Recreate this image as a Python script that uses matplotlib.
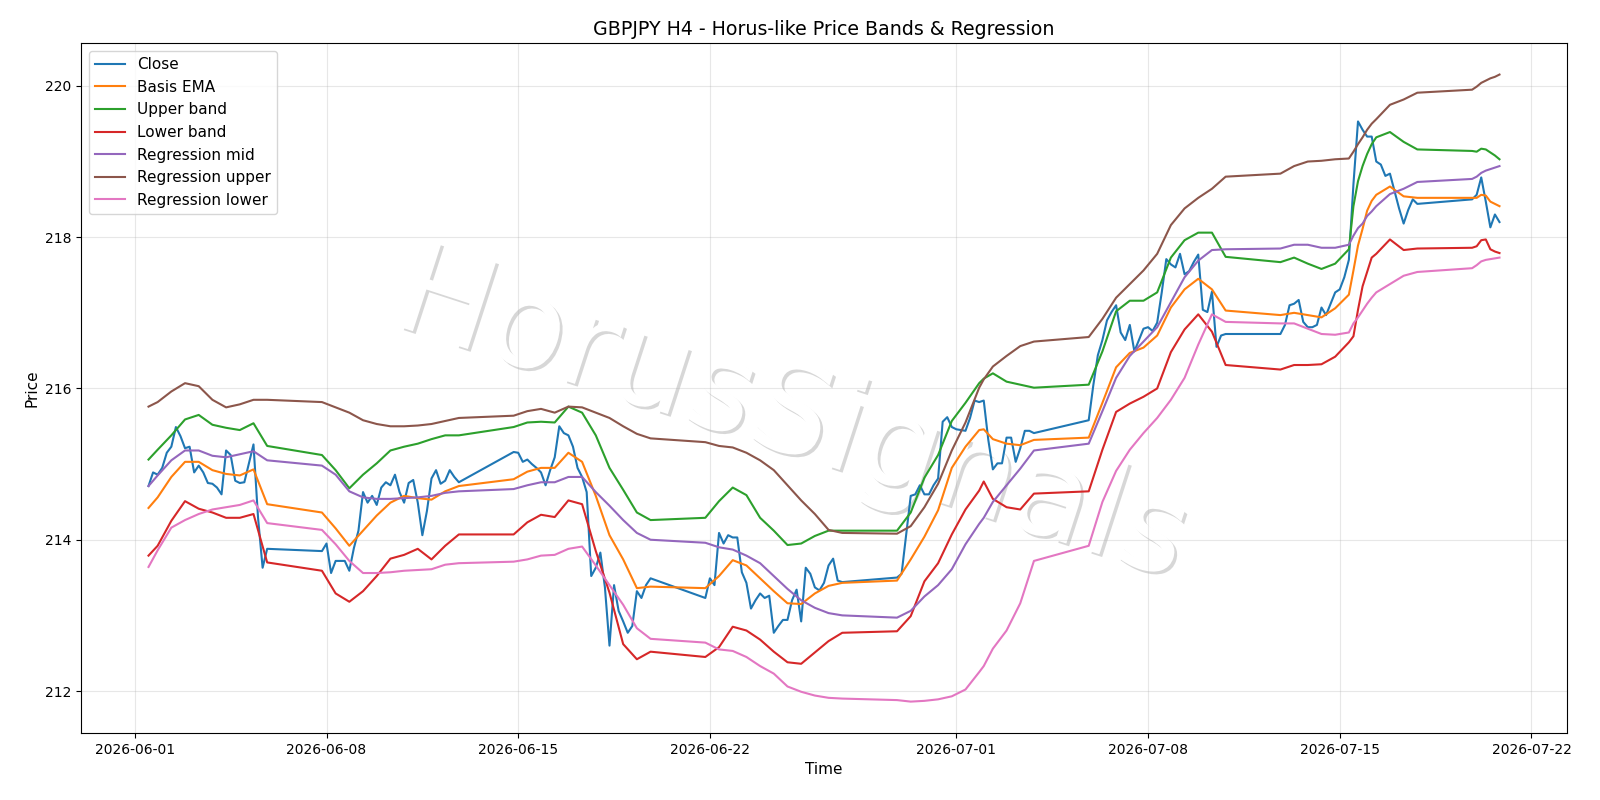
import numpy as np
import pandas as pd
import matplotlib
matplotlib.use("Agg")
import matplotlib.pyplot as plt
import matplotlib.patheffects as pe

# H4 bars: Mon-Fri sessions plus the Sunday 20:00 open bar
bars = pd.date_range("2026-06-01 12:00", "2026-07-20 20:00", freq="4h")
bars = bars[(bars.dayofweek < 5) | ((bars.dayofweek == 6) & (bars.hour == 20))]

close = [
    # week 1
    214.71, 214.89, 214.86, 214.95, 215.15, 215.23, 215.49, 215.37, 215.21, 215.23,
    214.89, 214.98, 214.89, 214.75, 214.74, 214.69, 214.60, 215.18, 215.12, 214.78,
    214.75, 214.76, 215.01, 215.26, 214.29, 213.63, 213.88,
    # week 2
    213.85, 213.95, 213.56, 213.72, 213.72, 213.72, 213.59, 213.89, 214.12, 214.63,
    214.49, 214.58, 214.46, 214.69, 214.76, 214.72, 214.86, 214.63, 214.49, 214.75,
    214.79, 214.49, 214.06, 214.38, 214.81, 214.92, 214.74, 214.78, 214.92, 214.83,
    214.76,
    # week 3
    215.16, 215.15, 215.03, 215.06, 215.00, 214.95, 214.89, 214.72, 214.92, 215.09,
    215.50, 215.41, 215.38, 215.23, 214.95, 214.83, 214.63, 213.52, 213.63, 213.83,
    213.37, 212.60, 213.40, 213.06, 212.92, 212.77, 212.86, 213.32, 213.23, 213.40,
    213.49,
    # week 4
    213.23, 213.49, 213.40, 214.09, 213.95, 214.06, 214.03, 214.03, 213.57, 213.43,
    213.09, 213.20, 213.29, 213.23, 213.26, 212.77, 212.86, 212.94, 212.94, 213.20,
    213.34, 212.92, 213.63, 213.55, 213.37, 213.33, 213.43, 213.66, 213.75, 213.46,
    213.44,
    # week 5
    213.50, 213.55, 214.06, 214.58, 214.60, 214.72, 214.60, 214.60, 214.72, 214.81,
    215.56, 215.62, 215.49, 215.46, 215.45, 215.44, 215.61, 215.84, 215.82, 215.84,
    215.32, 214.93, 215.01, 215.01, 215.35, 215.35, 215.03, 215.21, 215.44, 215.44,
    215.41,
    # week 6
    215.58, 216.04, 216.44, 216.64, 216.90, 217.01, 217.10, 216.74, 216.64, 216.84,
    216.49, 216.64, 216.79, 216.81, 216.76, 216.87, 217.27, 217.71, 217.64, 217.60,
    217.78, 217.51, 217.55, 217.67, 217.77, 217.04, 217.01, 217.28, 216.55, 216.70,
    216.72,
    # week 7
    216.72, 216.84, 217.10, 217.12, 217.17, 216.88, 216.81, 216.81, 216.84, 217.07,
    216.97, 217.12, 217.27, 217.31, 217.47, 217.70, 218.70, 219.53, 219.42, 219.33,
    219.33, 219.00, 218.96, 218.81, 218.84, 218.61, 218.38, 218.18, 218.36, 218.50,
    218.44,
    # week 8
    218.50, 218.56, 218.79, 218.47, 218.13, 218.30, 218.20,
]

band_times = pd.to_datetime(["2026-" + s for s in [
    "06-01 12:00", "06-01 20:00", "06-02 08:00", "06-02 20:00", "06-03 08:00",
    "06-03 20:00", "06-04 08:00", "06-04 20:00", "06-05 08:00", "06-05 20:00",
    "06-07 20:00", "06-08 08:00", "06-08 20:00", "06-09 08:00", "06-09 20:00", "06-10 08:00",
    "06-10 20:00", "06-11 08:00", "06-11 20:00", "06-12 08:00", "06-12 20:00",
    "06-14 20:00", "06-15 08:00", "06-15 20:00", "06-16 08:00", "06-16 20:00", "06-17 08:00",
    "06-17 20:00", "06-18 08:00", "06-18 20:00", "06-19 08:00", "06-19 20:00",
    "06-21 20:00", "06-22 08:00", "06-22 20:00", "06-23 08:00", "06-23 20:00", "06-24 08:00",
    "06-24 20:00", "06-25 08:00", "06-25 20:00", "06-26 08:00", "06-26 20:00",
    "06-28 20:00", "06-29 08:00", "06-29 20:00", "06-30 08:00", "06-30 20:00", "07-01 08:00",
    "07-01 20:00", "07-02 00:00", "07-02 08:00", "07-02 20:00", "07-03 08:00", "07-03 20:00",
    "07-05 20:00", "07-06 08:00", "07-06 20:00", "07-07 08:00", "07-07 20:00", "07-08 08:00",
    "07-08 20:00", "07-09 08:00", "07-09 20:00", "07-10 08:00", "07-10 20:00",
    "07-12 20:00", "07-13 08:00", "07-13 20:00", "07-14 08:00", "07-14 20:00", "07-15 08:00",
    "07-15 12:00", "07-15 16:00", "07-15 20:00", "07-16 00:00", "07-16 04:00", "07-16 08:00",
    "07-16 20:00", "07-17 08:00", "07-17 20:00",
    "07-19 20:00", "07-20 00:00", "07-20 04:00", "07-20 08:00", "07-20 12:00",
    "07-20 16:00", "07-20 20:00",
]])

basis_ema = [
    214.42, 214.56, 214.83, 215.03, 215.03, 214.92, 214.87, 214.85, 214.93, 214.47,
    214.36, 214.15, 213.92, 214.12, 214.32, 214.49, 214.58, 214.55, 214.53, 214.64, 214.71,
    214.80, 214.90, 214.95, 214.95, 215.15, 215.03, 214.58, 214.06, 213.74, 213.36, 213.38,
    213.36, 213.52, 213.73, 213.66, 213.49, 213.32, 213.16, 213.15, 213.29, 213.39, 213.43,
    213.46, 213.74, 214.04, 214.39, 214.95, 215.23, 215.45, 215.46, 215.33, 215.27, 215.25, 215.32,
    215.35, 215.81, 216.28, 216.47, 216.54, 216.70, 217.07, 217.31, 217.45, 217.31, 217.03,
    216.97, 217.00, 216.97, 216.94, 217.06, 217.24, 217.56, 217.89, 218.11, 218.35, 218.48,
    218.56, 218.67, 218.54, 218.52,
    218.52, 218.52, 218.56, 218.55, 218.47, 218.44, 218.41,
]

upper_band = [
    215.06, 215.19, 215.38, 215.59, 215.65, 215.52, 215.48, 215.45, 215.54, 215.24,
    215.12, 214.92, 214.68, 214.86, 215.01, 215.18, 215.23, 215.27, 215.33, 215.38, 215.38,
    215.49, 215.55, 215.56, 215.55, 215.76, 215.68, 215.38, 214.95, 214.66, 214.36, 214.26,
    214.29, 214.51, 214.69, 214.59, 214.29, 214.12, 213.93, 213.95, 214.05, 214.12, 214.12,
    214.12, 214.36, 214.82, 215.12, 215.57, 215.81, 216.07, 216.13, 216.20, 216.09, 216.05, 216.01,
    216.05, 216.49, 217.02, 217.16, 217.16, 217.27, 217.73, 217.96, 218.06, 218.06, 217.74,
    217.67, 217.73, 217.65, 217.58, 217.65, 217.84, 218.41, 218.74, 218.94, 219.10, 219.23,
    219.32, 219.39, 219.26, 219.16,
    219.14, 219.13, 219.17, 219.16, 219.12, 219.08, 219.03,
]

lower_band = [
    213.79, 213.92, 214.25, 214.51, 214.41, 214.36, 214.29, 214.29, 214.34, 213.70,
    213.59, 213.29, 213.18, 213.32, 213.52, 213.75, 213.80, 213.88, 213.74, 213.92, 214.07,
    214.07, 214.23, 214.33, 214.30, 214.52, 214.47, 213.85, 213.30, 212.62, 212.42, 212.52,
    212.45, 212.58, 212.85, 212.80, 212.68, 212.52, 212.38, 212.36, 212.51, 212.66, 212.77,
    212.79, 212.99, 213.45, 213.69, 214.07, 214.40, 214.65, 214.77, 214.54, 214.43, 214.40, 214.61,
    214.64, 215.19, 215.69, 215.80, 215.89, 216.00, 216.48, 216.78, 216.98, 216.75, 216.31,
    216.25, 216.31, 216.31, 216.32, 216.42, 216.61, 216.69, 217.04, 217.35, 217.54, 217.73,
    217.78, 217.97, 217.83, 217.85,
    217.86, 217.88, 217.96, 217.97, 217.84, 217.81, 217.79,
]

reg_mid = [
    214.71, 214.85, 215.05, 215.18, 215.18, 215.11, 215.09, 215.13, 215.17, 215.05,
    214.98, 214.86, 214.64, 214.56, 214.54, 214.54, 214.55, 214.56, 214.58, 214.62, 214.64,
    214.67, 214.72, 214.76, 214.76, 214.83, 214.83, 214.63, 214.45, 214.26, 214.09, 214.00,
    213.96, 213.90, 213.87, 213.79, 213.69, 213.52, 213.35, 213.20, 213.10, 213.03, 213.00,
    212.97, 213.06, 213.25, 213.40, 213.61, 213.94, 214.21, 214.29, 214.50, 214.72, 214.94, 215.18,
    215.27, 215.70, 216.14, 216.43, 216.62, 216.81, 217.14, 217.47, 217.69, 217.83, 217.84,
    217.85, 217.90, 217.90, 217.86, 217.86, 217.90, 218.02, 218.12, 218.18, 218.28, 218.34,
    218.41, 218.57, 218.64, 218.73,
    218.77, 218.80, 218.85, 218.88, 218.90, 218.92, 218.94,
]

reg_upper = [
    215.76, 215.82, 215.96, 216.07, 216.03, 215.85, 215.75, 215.79, 215.85, 215.85,
    215.82, 215.75, 215.68, 215.58, 215.53, 215.50, 215.50, 215.51, 215.53, 215.57, 215.61,
    215.64, 215.70, 215.73, 215.68, 215.76, 215.75, 215.68, 215.61, 215.50, 215.40, 215.34,
    215.29, 215.24, 215.22, 215.15, 215.05, 214.92, 214.72, 214.52, 214.34, 214.13, 214.09,
    214.08, 214.18, 214.43, 214.74, 215.18, 215.55, 216.01, 216.12, 216.29, 216.43, 216.56, 216.62,
    216.68, 216.92, 217.20, 217.38, 217.56, 217.78, 218.16, 218.38, 218.52, 218.64, 218.80,
    218.84, 218.94, 219.00, 219.01, 219.03, 219.04, 219.13, 219.23, 219.32, 219.42, 219.50,
    219.56, 219.75, 219.82, 219.91,
    219.95, 219.99, 220.04, 220.07, 220.10, 220.12, 220.15,
]

reg_lower = [
    213.64, 213.86, 214.16, 214.26, 214.34, 214.40, 214.43, 214.46, 214.52, 214.22,
    214.13, 213.94, 213.72, 213.56, 213.56, 213.57, 213.59, 213.60, 213.61, 213.67, 213.69,
    213.71, 213.74, 213.79, 213.80, 213.88, 213.91, 213.66, 213.40, 213.14, 212.83, 212.69,
    212.64, 212.55, 212.53, 212.45, 212.33, 212.23, 212.06, 211.99, 211.94, 211.91, 211.90,
    211.88, 211.86, 211.87, 211.89, 211.93, 212.02, 212.25, 212.33, 212.56, 212.80, 213.16, 213.72,
    213.92, 214.50, 214.91, 215.19, 215.41, 215.61, 215.85, 216.14, 216.58, 216.98, 216.88,
    216.86, 216.86, 216.79, 216.72, 216.71, 216.74, 216.86, 216.94, 217.03, 217.12, 217.20,
    217.27, 217.38, 217.49, 217.54,
    217.59, 217.63, 217.68, 217.70, 217.71, 217.72, 217.73,
]

assert len(close) == len(bars)

fig = plt.figure(figsize=(16, 8), dpi=100)
ax = fig.add_subplot(111)
fig.subplots_adjust(left=0.0506, right=0.9794, top=0.946, bottom=0.0838)

ax.plot(bars, close, label="Close")
ax.plot(band_times, basis_ema, label="Basis EMA")
ax.plot(band_times, upper_band, label="Upper band")
ax.plot(band_times, lower_band, label="Lower band")
ax.plot(band_times, reg_mid, label="Regression mid")
ax.plot(band_times, reg_upper, label="Regression upper")
ax.plot(band_times, reg_lower, label="Regression lower")

# watermark
ax.text(0.495, 0.478, "HorusSignals", transform=fig.transFigure, fontsize=91,
        color="white", rotation=-18, ha="center", va="center", zorder=0.5,
        path_effects=[pe.withSimplePatchShadow(offset=(2, -2), alpha=0.22)])

ax.set_title("GBPJPY H4 - Horus-like Price Bands & Regression", fontsize=13.7)
ax.set_xlabel("Time", fontsize=11)
ax.set_ylabel("Price", fontsize=11)
ax.grid(True, alpha=0.3)
ax.legend(loc="upper left", fontsize=11)

fig.savefig("out.png")
